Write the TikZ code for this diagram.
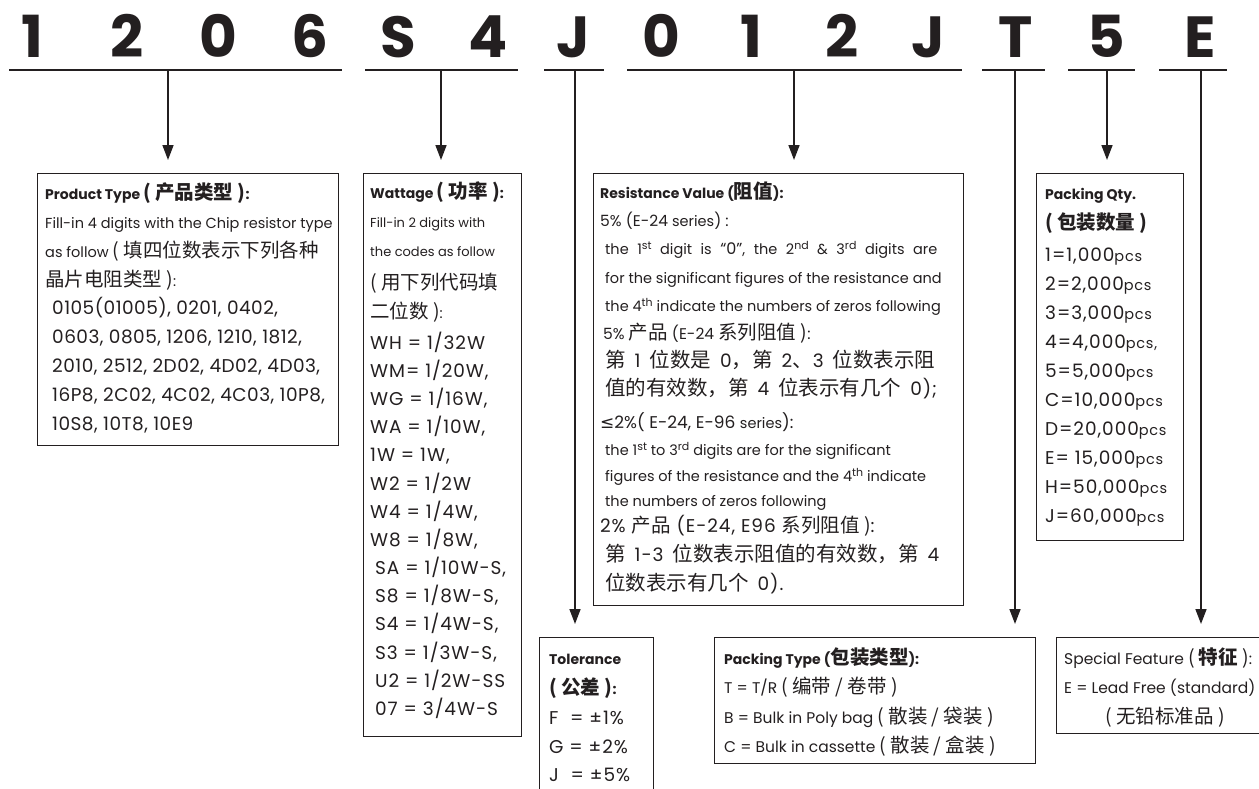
\documentclass[tikz,border=0pt]{standalone}
\usepackage{fontspec}
\setmainfont{Poppins}
\newfontfamily\codef[LetterSpace=5]{Poppins}
\newfontfamily\pcodef[LetterSpace=2.5]{Poppins}
\newfontfamily\zhf{Noto Sans CJK SC}
\newfontfamily\symf{DejaVu Sans}
\usetikzlibrary{arrows.meta}
\definecolor{ink}{HTML}{231F20}
\newcommand\zh[1]{{\zhf\fontsize{19.5}{21}\selectfont #1}}
\newcommand\zhb[1]{{\zhf\fontsize{20.5}{22}\selectfont #1}}
\newcommand\sm[1]{{\fontsize{14.5}{16}\selectfont #1}}
\newcommand\sps[1]{\raisebox{0.62ex}{\fontsize{11}{12}\selectfont #1}}
\newcommand\ws{\hspace{9pt}}
\newcommand\TL[5][txt]{\node[#1] (#2) at (#3,#4) {#5};}
\begin{document}
\begin{tikzpicture}[x=1pt,y=-1pt,
  txt/.style={anchor=base west,inner sep=0pt,text=ink,font=\fontsize{14.5}{16}\selectfont},
  midtxt/.style={txt,font=\fontsize{15.5}{17}\selectfont},
  code/.style={txt,font=\codef\fontsize{18.5}{20}\selectfont},
  pcode/.style={txt,font=\pcodef\fontsize{18.5}{20}\selectfont},
  smalltxt/.style={txt,font=\fontsize{13}{14}\selectfont},
  ttl/.style={txt,font=\bfseries\fontsize{14}{16}\selectfont},
  hdr/.style={anchor=base,inner sep=0pt,text=ink,font=\bfseries\fontsize{58}{60}\selectfont},
  box/.style={draw=ink,line width=1.3pt,anchor=north west,inner sep=0pt},
  uline/.style={draw=ink,line width=2.6pt},
  arr/.style={draw=ink,line width=1.6pt,-{Triangle[length=15pt,width=11pt]},shorten >=13pt}]
\useasboundingbox (0,0) rectangle (1259,788);
% header characters
\foreach \c/\x [count=\i] in {1/32,2/127,0/218,6/310,S/398,4/488,J/573,0/661,1/751,2/842,J/928,T/1016,5/1106,E/1200}
  \node[hdr] (h\i) at (\x,57) {\c};
% underlines
\foreach \a/\b [count=\i] in {9/342,365/518,544/604,627/962,982/1045,1068/1135,1159/1227}{
  \coordinate (ua\i) at (\a,70); \coordinate (ub\i) at (\b,70);
  \draw[uline] (ua\i) -- (ub\i);}
% boxes
\node[box,minimum width=301pt,minimum height=272pt] (bprod) at (37,173) {};
\node[box,minimum width=158pt,minimum height=563pt] (bwatt) at (363,173) {};
\node[box,minimum width=114pt,minimum height=170pt] (btol) at (539,637) {};
\node[box,minimum width=370pt,minimum height=432pt] (bres) at (593,173) {};
\node[box,minimum width=321pt,minimum height=126pt] (bpack) at (714,637) {};
\node[box,minimum width=147pt,minimum height=367pt] (bqty) at (1036,173) {};
\node[box,minimum width=210pt,minimum height=96pt] (bspec) at (1056,637) {};
% arrows
\coordinate (a1) at (168,70); \coordinate (a2) at (441,70); \coordinate (a3) at (575,70);
\coordinate (a4) at (794,70); \coordinate (a5) at (1015,70); \coordinate (a6) at (1107,70);
\coordinate (a7) at (1201,70);
\draw[arr] (a1) -- (a1 |- bprod.north);
\draw[arr] (a2) -- (a2 |- bwatt.north);
\draw[arr] (a3) -- (a3 |- btol.north);
\draw[arr] (a4) -- (a4 |- bres.north);
\draw[arr] (a5) -- (a5 |- bpack.north);
\draw[arr] (a6) -- (a6 |- bqty.north);
\draw[arr] (a7) -- (a7 |- bspec.north);
% Product type
\TL[ttl]{p0}{45}{199}{Product Type \zh{( 产品类型 )}:}
\TL{p1}{45}{228}{Fill-in 4 digits with the Chip resistor type}
\TL{p2}{45}{257}{as follow \zh{( 填四位数表示下列各种}}
\TL{p3}{45}{286}{\zh{晶片电阻类型 )}:}
\TL[pcode]{p4}{52}{314}{0105(01005), 0201, 0402,}
\TL[pcode]{p5}{52}{343}{0603, 0805, 1206, 1210, 1812,}
\TL[pcode]{p6}{52}{372}{2010, 2512, 2D02, 4D02, 4D03,}
\TL[pcode]{p7}{52}{401}{16P8, 2C02, 4C02, 4C03, 10P8,}
\TL[pcode]{p8}{52}{430}{10S8, 10T8, 10E9}
% Wattage
\TL[ttl]{w0}{370}{198}{Wattage \zh{( 功率 )}:}
\TL[smalltxt]{w1}{370}{227}{Fill-in 2 digits with}
\TL[smalltxt]{w2}{370}{256}{the codes as follow}
\TL{w3}{370}{289}{\zh{( 用下列代码填}}
\TL{w4}{370}{318}{\zh{二位数 )}:}
\TL[code]{w5}{370}{349}{WH = 1/32W}
\TL[code]{w6}{370}{377}{WM= 1/20W,}
\TL[code]{w7}{370}{405}{WG = 1/16W,}
\TL[code]{w8}{370}{433}{WA = 1/10W,}
\TL[code]{w9}{370}{461}{1W = 1W,}
\TL[code]{w10}{370}{490}{W2 = 1/2W}
\TL[code]{w11}{370}{518}{W4 = 1/4W,}
\TL[code]{w12}{370}{546}{W8 = 1/8W,}
\TL[code]{w13}{375}{574}{SA = 1/10W-S,}
\TL[code]{w14}{375}{602}{S8 = 1/8W-S,}
\TL[code]{w15}{375}{630}{S4 = 1/4W-S,}
\TL[code]{w16}{375}{659}{S3 = 1/3W-S,}
\TL[code]{w17}{375}{687}{U2 = 1/2W-SS}
\TL[code]{w18}{375}{715}{07 = 3/4W-S}
% Resistance
\TL[ttl]{r0}{600}{198}{Resistance Value (\zh{阻值}):}
\TL[midtxt]{r1}{600}{226}{5\% (E-24 \sm{series}) :}
\TL{r2}{605}{254}{\spaceskip=8.5pt plus 1pt the 1\sps{st} digit is {\fontsize{16}{17}\selectfont “0”}, the 2\sps{nd} \& 3\sps{rd} digits are}
\TL{r3}{605}{283}{for the significant figures of the resistance and}
\TL{r4}{605}{311}{the 4\sps{th} indicate the numbers of zeros following}
\TL[midtxt]{r5}{603}{339}{5\% \zh{产品} (E-24 \zh{系列阻值 )}:}
\TL[code]{r6}{605}{367}{\zhb{第}\ws 1\ws\zhb{位数是}\ws 0\zhb{，第}\ws 2\zhb{、}3\ws\zhb{位数表示阻}}
\TL[code]{r7}{605}{395}{\zhb{值的有效数，第}\ws 4\ws\zhb{位表示有几个}\ws 0);}
\TL[txt,font=\fontsize{17}{18}\selectfont]{r8}{600}{428}{{\symf ≤}2\%( E-24, E-96 \sm{series}):}
\TL{r9}{605}{455}{the 1\sps{st} to 3\sps{rd} digits are for the significant}
\TL{r10}{605}{481}{figures of the resistance and the 4\sps{th} indicate}
\TL{r11}{605}{506}{the numbers of zeros following}
\TL[code]{r12}{600}{532}{2\% \zh{产品} (E-24, E96 \zh{系列阻值 )}:}
\TL[code]{r13}{605}{561}{\zhb{第}\ws 1-3\ws\zhb{位数表示阻值的有效数，第}\ws 4}
\TL[code]{r14}{605}{590}{\zhb{位数表示有几个}\ws 0).}
% Packing qty
\TL[ttl]{q0}{1045}{199}{Packing Qty.}
\TL[ttl]{q1}{1045}{229}{\zh{( 包装数量 )}}
\TL[code]{q2}{1045}{261}{1=1,000\sm{pcs}}
\TL[code]{q3}{1045}{290}{2=2,000\sm{pcs}}
\TL[code]{q4}{1045}{319}{3=3,000\sm{pcs}}
\TL[code]{q5}{1045}{348}{4=4,000\sm{pcs,}}
\TL[code]{q6}{1045}{377}{5=5,000\sm{pcs}}
\TL[code]{q7}{1045}{406}{C=10,000\sm{pcs}}
\TL[code]{q8}{1045}{435}{D=20,000\sm{pcs}}
\TL[code]{q9}{1045}{464}{E= 15,000\sm{pcs}}
\TL[code]{q10}{1045}{493}{H=50,000\sm{pcs}}
\TL[code]{q11}{1045}{522}{J=60,000\sm{pcs}}
% Tolerance
\TL[ttl]{t0}{549}{664}{Tolerance}
\TL[ttl]{t1}{549}{694}{\zh{( 公差 )}:}
\TL[code]{t2}{549}{724}{F \ = ±1\%}
\TL[code]{t3}{549}{753}{G = ±2\%}
\TL[code]{t4}{549}{781}{J \ = ±5\%}
% Packing type
\TL[ttl]{k0}{724}{664}{Packing Type (\zh{包装类型}):}
\TL[midtxt]{k1}{724}{693}{T = T/R \zh{( 编带 / 卷带 )}}
\TL[midtxt]{k2}{724}{723}{B = Bulk in Poly bag \zh{( 散装 / 袋装 )}}
\TL[midtxt]{k3}{724}{752}{C = Bulk in cassette \zh{( 散装 / 盒装 )}}
% Special feature
\TL[midtxt]{s0}{1064}{664}{Special Feature \zh{( {\bfseries 特征} )}:}
\TL[midtxt]{s1}{1064}{693}{E = Lead Free (standard)}
\TL{s2}{1105}{723}{\zh{( 无铅标准品 )}}
\end{tikzpicture}
\end{document}
